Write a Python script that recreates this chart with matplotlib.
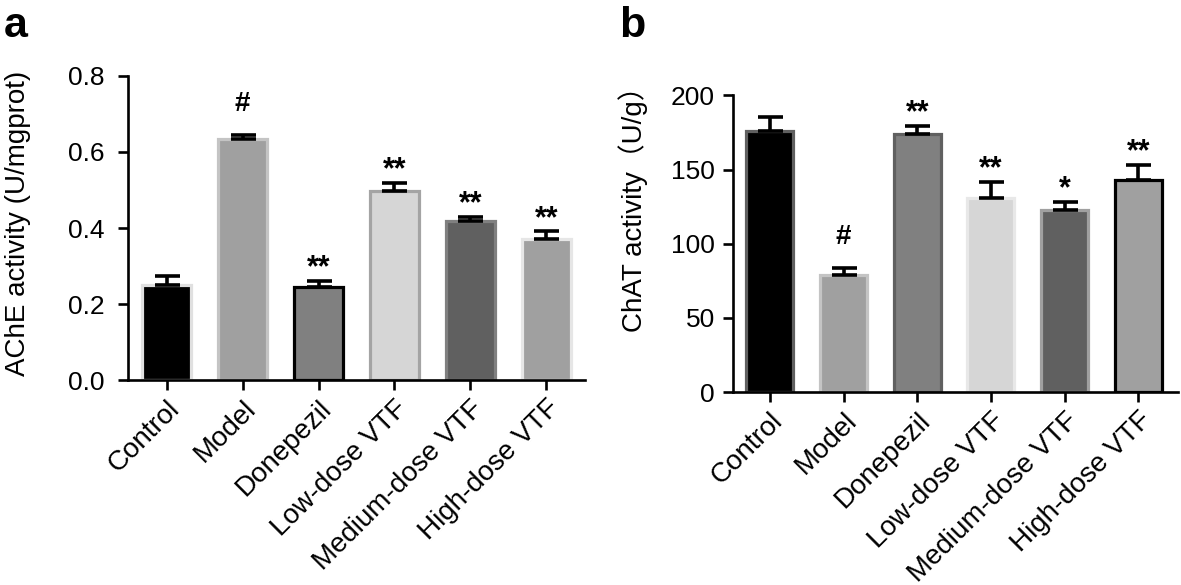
"""
AChE / ChAT activity bar charts
"""

import matplotlib as mpl
import matplotlib.pyplot as plt
import numpy as np

mpl.rcParams['font.family'] = ['Liberation Sans', 'Noto Sans CJK SC', 'DejaVu Sans']
mpl.rcParams['axes.linewidth'] = 1.9

groups = ['Control', 'Model', 'Donepezil', 'Low-dose VTF', 'Medium-dose VTF', 'High-dose VTF']

ache_mean = [0.250, 0.633, 0.244, 0.498, 0.419, 0.370]
ache_err = [0.024, 0.012, 0.017, 0.021, 0.011, 0.022]
ache_marks = ['', '#', '**', '**', '**', '**']

chat_mean = [176, 78.8, 174, 130.6, 122.7, 142.8]
chat_err = [9.3, 5.0, 5.6, 11.1, 5.7, 10.6]
chat_marks = ['', '#', '**', '**', '*', '**']

fills = ['#000000', '#a0a0a0', '#808080', '#d6d6d6', '#606060', '#a0a0a0']
edges_a = ['#e0e0e0', '#c4c4c4', '#000000', '#a4a4a4', '#808080', '#e6e6e6']
edges_b = ['#606060', '#c4c4c4', '#606060', '#e8e8e8', '#a0a0a0', '#000000']


def draw(ax, means, errs, marks, edges, ylim, yticks, ylabel, fmt, ypad, labxy):
    x = np.arange(len(groups))
    ax.bar(x, means, width=0.64, color=fills, edgecolor=edges, linewidth=2.3, zorder=2)
    ax.errorbar(x, means, yerr=[np.zeros(len(x)), errs], fmt='none', ecolor='black',
                elinewidth=2.6, capsize=9, capthick=2.6, zorder=3)
    for xi, m, e, s in zip(x, means, errs, marks):
        if not s:
            continue
        if s == '#':
            ax.annotate(s, (xi, m + e), xytext=(0, 17), textcoords='offset points',
                        ha='center', va='baseline', fontsize=20, fontweight='bold')
        else:
            ax.annotate(s, (xi, m + e), xytext=(0, 3), textcoords='offset points',
                        ha='center', va='baseline', fontsize=22, fontweight='bold')
    ax.set_ylim(*ylim)
    ax.set_yticks(yticks)
    ax.set_yticklabels([fmt.format(v) for v in yticks])
    ax.set_xticks(x)
    ax.set_xticklabels(groups, rotation=45, ha='right', rotation_mode='anchor', fontsize=20)
    ax.spines['top'].set_visible(False)
    ax.spines['right'].set_visible(False)
    ax.tick_params(axis='both', direction='out', length=7, width=1.9)
    ax.tick_params(axis='y', pad=ypad, labelsize=19)
    ax.tick_params(axis='x', pad=4)
    ax.set_ylabel(ylabel, fontsize=20)
    ax.yaxis.set_label_coords(*labxy)


fig = plt.figure(figsize=(11.81, 5.85), dpi=100)
ax1 = fig.add_axes([0.1084, 0.3504, 0.3869, 0.5197])
ax2 = fig.add_axes([0.6207, 0.3299, 0.3768, 0.5069])

draw(ax1, ache_mean, ache_err, ache_marks, edges_a, (0, 0.8), [0, 0.2, 0.4, 0.6, 0.8],
     'AChE activity (U/mgprot)', '{:.1f}', 10, (-0.212, 0.516))
ax1.set_xlim(-0.51, 5.51)
draw(ax2, chat_mean, chat_err, chat_marks, edges_b, (0, 200), [0, 50, 100, 150, 200],
     'ChAT activity（U/g）', '{:.0f}', 6, (-0.19, 0.64))
ax2.set_xlim(-0.5, 5.54)

fig.text(0.003, 0.937, 'a', fontsize=31, fontweight='bold', va='baseline')
fig.text(0.524, 0.937, 'b', fontsize=31, fontweight='bold', va='baseline')

fig.savefig('out.png', dpi=100)
